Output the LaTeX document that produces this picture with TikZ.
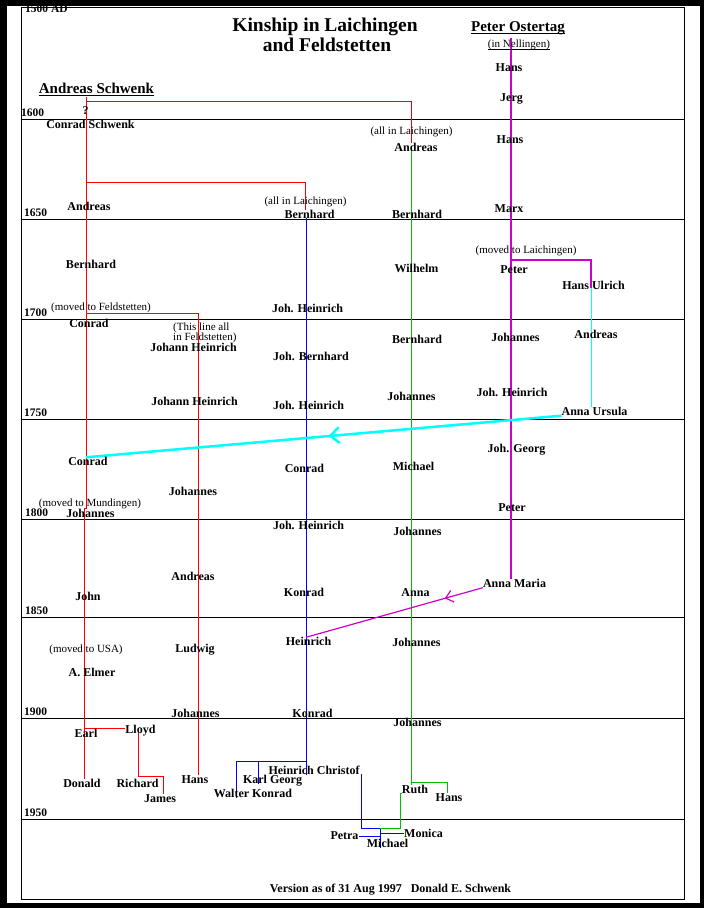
\documentclass[tikz,border=0pt]{standalone}
\usepackage{fontspec}
\setmainfont{Liberation Serif}
\usetikzlibrary{arrows.meta,decorations.markings,backgrounds}
\definecolor{linegreen}{RGB}{0,190,0}
\definecolor{linemag}{RGB}{204,0,204}
\definecolor{linecyan}{RGB}{0,255,255}
\newcommand\undl[1]{\setbox0\hbox{#1}\rlap{\rule[-2.5pt]{\wd0}{1pt}}\box0}

\begin{document}
\begin{tikzpicture}[x=1pt,y=-1pt,
    nm/.style={font=\bfseries\fontsize{12}{12}\selectfont,inner sep=0pt,text height=8pt,text depth=0pt},
    note/.style={font=\fontsize{11}{10.5}\selectfont,inner sep=0pt,text height=7.6pt,text depth=2.4pt},
    yr/.style={font=\bfseries\fontsize{11.5}{11.5}\selectfont,inner sep=0pt,text height=7.6pt,text depth=0pt,anchor=west},
    hd/.style={font=\bfseries\fontsize{15}{15}\selectfont,inner sep=0pt,anchor=base},
    ttl/.style={font=\bfseries\fontsize{19.5}{19.5}\selectfont,inner sep=0pt,anchor=base},
    redline/.style={red,line width=1pt},
    blueline/.style={blue,line width=1pt},
    greenline/.style={linegreen,line width=1pt},
    magline/.style={linemag,line width=1.2pt},
    cyanline/.style={linecyan,line width=1pt},
    marriage/.style 2 args={postaction={decorate},decoration={markings,mark=at position #1 with {\arrow{#2}}}}]
                \useasboundingbox (0,0) rectangle (704,908);
                \begin{scope}[on background layer]
                    \fill (0,0) rectangle (704,908);
                    \fill[white] (7,6) rectangle (700,903);
                    \begin{scope}[shift={(0.5,0.5)}]
                        \draw[line width=1pt] (21,7) rectangle (684,899);
                        \foreach \yy in {119,219,319,419,519,617,718,819}
                            \draw[line width=1pt] (21,\yy) -- (684,\yy);
                    \end{scope}
                \end{scope}

                \node[yr] (y1500) at (25,8.5) {1500 AD};
                \foreach \yy/\yr/\xx in {119/1600/21,219/1650/24,319/1700/24,419/1750/24,519/1800/25,617/1850/25,718/1900/24,819/1950/24}
                    \node[yr] (y\yr) at (\xx,\yy-6) {\yr};

                \node[ttl] (title) at (325,31.5) {Kinship in Laichingen};
                \node[ttl] (title2) at (327,51.7) {and Feldstetten};

                \node[hd] (andreasS) at (96.5,93.5) {\undl{Andreas Schwenk}};
                \node[hd] (peterO) at (518,31.8) {\undl{Peter Ostertag}};
                \node[note,anchor=base] (nellingen) at (519,47.6) {\undl{(in Nellingen)}};

                \node[nm] (qm) at (85.5,110.5) {?};
                \node[nm] (conradS) at (90.5,124) {Conrad Schwenk};
                \node[nm] (andreas1) at (89,206) {Andreas};
                \node[nm] (bernhard1) at (91,264.5) {Bernhard};
                \node[note] (movedF) at (101,308) {(moved to Feldstetten)};
                \node[nm] (conrad1) at (89,323.5) {Conrad};
                \node[nm] (conrad2) at (88,461.5) {Conrad};
                \node[note] (movedM) at (90,503.5) {(moved to Mundingen)};
                \node[nm] (johannes1) at (90.5,513.5) {Johannes};
                \node[nm] (john) at (88,596) {John};
                \node[note] (movedU) at (86,649.5) {(moved to USA)};
                \node[nm] (elmer) at (92,672.5) {A. Elmer};
                \node[nm] (earl) at (86,733.5) {Earl};
                \node[nm] (lloyd) at (140.5,729.5) {Lloyd};
                \node[nm] (donald) at (82,783.5) {Donald};
                \node[nm] (richard) at (137.5,783.5) {Richard};
                \node[nm] (james) at (160,798) {James};

                \node[note,align=left,anchor=north west] (thisline) at (173,333) {(This line all\\ in Feldstetten)};
                \node[nm] (johannH1) at (193.5,347.5) {Johann Heinrich};
                \node[nm] (johannH2) at (194.5,401) {Johann Heinrich};
                \node[nm] (johannes2) at (193,491) {Johannes};
                \node[nm] (andreas2) at (193,576) {Andreas};
                \node[nm] (ludwig) at (195,648.5) {Ludwig};
                \node[nm] (johannes3) at (195.5,713.5) {Johannes};
                \node[nm] (hans1) at (195,779.5) {Hans};

                \node[note] (allL2) at (305.5,202) {(all in Laichingen)};
                \node[nm] (bernhard2) at (309.5,214.5) {Bernhard};
                \node[nm] (johH1) at (307.5,308.5) {Joh. Heinrich};
                \node[nm] (johB) at (311,356) {Joh. Bernhard};
                \node[nm] (johH2) at (308.5,405.5) {Joh. Heinrich};
                \node[nm] (conrad3) at (304.5,468.5) {Conrad};
                \node[nm] (johH3) at (308.5,525.5) {Joh. Heinrich};
                \node[nm] (konrad1) at (304,592.5) {Konrad};
                \node[nm] (heinrich) at (308.5,641.5) {Heinrich};
                \node[nm] (konrad2) at (312.5,713.5) {Konrad};
                \node[nm] (heinrichC) at (314,770.5) {Heinrich Christof};
                \node[nm] (karlG) at (272.5,779.5) {Karl Georg};
                \node[nm] (walterK) at (253,793.5) {Walter Konrad};
                \node[nm] (petra) at (344.5,835.5) {Petra};
                \node[nm] (michael2) at (387.5,843.5) {Michael};
                \node[nm] (monica) at (423.5,833) {Monica};

                \node[note] (allL1) at (411.5,131.5) {(all in Laichingen)};
                \node[nm] (andreas3) at (416,147.5) {Andreas};
                \node[nm] (bernhard3) at (417,214.5) {Bernhard};
                \node[nm] (wilhelm) at (416.5,268.5) {Wilhelm};
                \node[nm] (bernhard4) at (417,339.5) {Bernhard};
                \node[nm] (johannes4) at (411.5,396.5) {Johannes};
                \node[nm] (michael1) at (413.5,466.5) {Michael};
                \node[nm] (johannes5) at (417.5,531.5) {Johannes};
                \node[nm] (anna) at (415.5,592.5) {Anna};
                \node[nm] (johannes6) at (416.5,642) {Johannes};
                \node[nm] (johannes7) at (417.5,722.5) {Johannes};
                \node[nm] (ruth) at (415,789.5) {Ruth};
                \node[nm] (hans2) at (449,797) {Hans};

                \node[nm] (hans3) at (509,67.5) {Hans};
                \node[nm] (jerg) at (511.5,97) {Jerg};
                \node[nm] (hans4) at (510,139) {Hans};
                \node[nm] (marx) at (509,208) {Marx};
                \node[note] (movedL) at (526,250.5) {(moved to Laichingen)};
                \node[nm] (peter1) at (514,269.5) {Peter};
                \node[nm] (hansU) at (593.5,285.5) {Hans Ulrich};
                \node[nm] (andreas4) at (596,334.5) {Andreas};
                \node[nm] (annaU) at (594.5,411.5) {Anna Ursula};
                \node[nm] (johannes8) at (515.5,337.5) {Johannes};
                \node[nm] (johH4) at (512,392.5) {Joh. Heinrich};
                \node[nm] (johG) at (516.5,448.5) {Joh. Georg};
                \node[nm] (peter2) at (512,507.5) {Peter};
                \node[nm] (annaM) at (514.5,583.5) {Anna Maria};

                \node[nm] (version) at (390.5,888.5) {Version as of 31 Aug 1997\hspace{9pt}Donald E. Schwenk};

                \coordinate (sTop) at (86,97);
                \coordinate (sFork) at (86,101);
                \coordinate (lFork) at (411,101);
                \coordinate (bFork) at (86,182);
                \coordinate (bCorner) at (305,182);
                \coordinate (fFork) at (86,313);
                \coordinate (fCorner) at (198,313);
                \coordinate (jogA) at (86,508);
                \coordinate (jogB) at (84,508);
                \coordinate (eFork) at (84,728);
                \coordinate (lloydS) at (138,733);
                \coordinate (rFork) at (138,776);
                \coordinate (jCorner) at (163,776);
                \coordinate (bTop) at (306,218);
                \coordinate (kFork) at (306,761);
                \coordinate (wCorner) at (236,761);
                \coordinate (kTop) at (258,761);
                \coordinate (hcE) at (361,774);
                \coordinate (hcCorner) at (361,828);
                \coordinate (mFork) at (380,828);
                \coordinate (pFork) at (380,836);
                \coordinate (moFork) at (380,833);
                \coordinate (gTop) at (411,150);
                \coordinate (hFork) at (411,782);
                \coordinate (hCorner) at (447,782);
                \coordinate (rStep) at (400,828);
                \coordinate (oTop) at (511,38);
                \coordinate (uFork) at (511,260);
                \coordinate (uCorner) at (591,260);
                \coordinate (uMid) at (591,288);

                \begin{scope}[on background layer,shift={(0.5,0.5)}]
                    \draw[redline] (sTop) -- (sFork) -- (lFork) -- (lFork |- andreas3.north);
                    \draw[redline] (sFork) -- (jogA) -- (jogB) -- (jogB |- donald.north);
                    \draw[redline] (bFork) -- (bCorner) -- (bCorner |- bernhard2.north);
                    \draw[redline] (fFork) -- (fCorner) -- (fCorner |- hans1.north);
                    \draw[redline] (eFork) -- (eFork -| lloyd.west);
                    \draw[redline] (lloydS) -- (rFork) -- (jCorner) -- (jCorner |- james.north);
                    \draw[blueline] (bTop) -- (bTop |- heinrichC.south);
                    \draw[blueline] (kFork) -- (wCorner) -- (wCorner |- walterK.south);
                    \draw[blueline] (kTop) -- (kTop |- karlG.south);
                    \draw[blueline] (hcE) -- (hcCorner) -- (mFork) -- (mFork |- michael2.south);
                    \draw[blueline] (pFork) -- (pFork -| petra.east);
                    \draw[blueline] (moFork) -- (moFork -| monica.west);
                    \draw[greenline] (gTop) -- (gTop |- ruth.north);
                    \draw[greenline] (hFork) -- (hCorner) -- (hCorner |- hans2.north);
                    \draw[greenline] (mFork) -- (rStep) -- (rStep |- ruth.south) -- (ruth.south west);
                    \draw[magline] (oTop) -- (oTop |- annaM.north);
                    \draw[magline] (uFork) -- (uCorner) -- (uMid);
                    \draw[cyanline] (uMid) -- (uMid |- annaU.north);
                    \draw[linecyan,line width=2.5pt,marriage={0.49}{Straight Barb[length=9pt,width=16pt]}] (annaU.south west) -- (conrad2.north -| sTop);
                    \draw[magline,marriage={0.215}{Straight Barb[length=7pt,width=12pt]}] (annaM.south west) -- (heinrich.north -| bTop);
                \end{scope}
\end{tikzpicture}
\end{document}
